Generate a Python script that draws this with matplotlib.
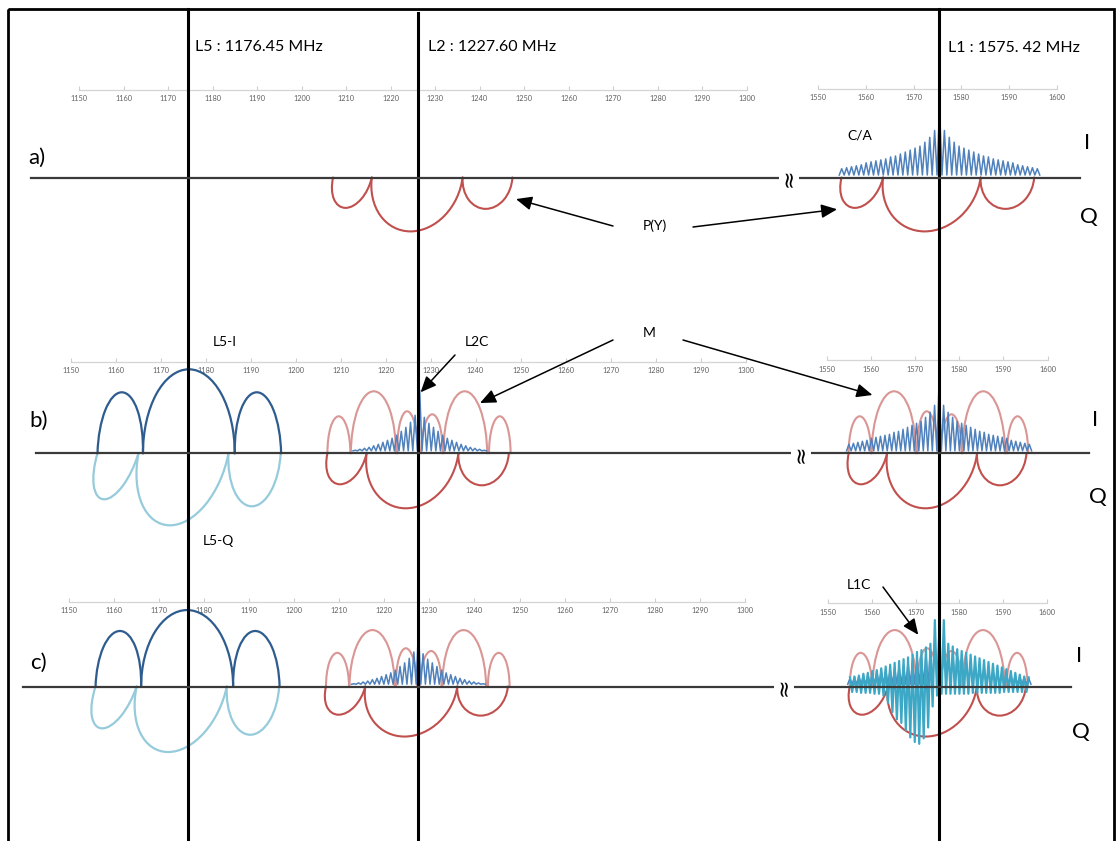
import matplotlib
matplotlib.use("Agg")
import matplotlib.pyplot as plt
import matplotlib.transforms as mtransforms
from matplotlib.path import Path
from matplotlib.patches import PathPatch, Rectangle
from matplotlib.lines import Line2D

plt.rcParams["font.family"] = ["Lato", "DejaVu Sans"]

W, H = 1120, 841

# ---------------------------------------------------------------- data
# carrier frequencies (MHz)
F_L5 = 1176.45
F_L2 = 1227.60
F_L1 = 1575.42
LINE_SPACING = 1.023          # spectral line spacing of the 1.023 Mcps codes

LEFT_TICKS = list(range(1150, 1301, 10))
RIGHT_TICKS = list(range(1550, 1601, 10))

# C/A code line spectrum, lines -20 .. +20 around L1
CA_PEAKS = [9, 10, 11, 12, 13, 15, 16, 17, 18, 19, 21, 22, 24, 26, 28, 30, 32, 36, 41, 48,
            73,
            48, 41, 36, 32, 30, 28, 26, 24, 22, 21, 19, 18, 17, 16, 15, 13, 12, 11, 10, 9]

# L2C line spectrum, lines -14 .. +14 around L2
L2C_PEAKS = [3, 4, 5, 6, 7.5, 9, 11, 13, 15, 18, 22, 26, 31, 38,
             63,
             36, 30, 26, 22, 18, 15, 13, 11, 9, 7.5, 6, 5, 4, 3]

# L1C excursions: upper points on lines -20 .. +20, lower points halfway between lines
L1C_TOP = [10, 11, 12, 14, 15, 17, 18, 20, 22, 24, 26, 28, 30, 32, 35, 38, 40, 43, 47, 73,
           30,
           73, 47, 44, 41, 39, 37, 35, 33, 31, 29, 27, 25, 23, 21, 19, 17, 15, 13, 11, 10]
L1C_BOTTOM = [-6, -6, -7, -7, -7, -8, -8, -10, -18, -28, -36, -40, -48, -56, -61, -63, -57, -45, -22, -10,
              -8, -8, -8, -8, -8, -8, -8, -7, -7, -7, -7, -7, -7, -7, -6, -6, -6, -6, -6, -6]

# L5 in-phase lobes (absolute MHz)
L5I_EDGES = [1156.0, 1166.1, 1186.5, 1196.8]
L5I_PEAK_F = [1161.4, 1176.3, 1191.4]
L5I_PEAK = [61, 84, 61]

# L5 quadrature lobes (absolute MHz)
L5Q_EDGES = [1156.0, 1165.1, 1185.1, 1196.7]
L5Q_PEAK_F = [1157.5, 1172.1, 1190.3]
L5Q_PEAK = [-46, -72, -53]

# M code lobes (offsets from carrier, MHz)
M_START = [-20.5, -15.3, -5.0, 0.3, 5.3, 15.4]
M_END = [-15.4, -5.3, -0.3, 5.1, 15.0, 20.2]
M_PEAK_F = [-18.0, -10.2, -2.8, 2.8, 10.0, 17.8]
M_PEAK = [37, 62, 42, 39, 62, 37]

# P(Y) code lobes (offsets from carrier, MHz)
PY_EDGES = [-20.5, -11.8, 8.6, 19.8]
PY_PEAK_F = [-17.7, -3.1, 13.8]
PY_PEAK = [-31, -55, -32]

# ---------------------------------------------------------------- style
C_BLUE = "#4F81BD"
C_RED = "#C0504D"
C_PINK = "#D99694"
C_L5I = "#2E5C8F"
C_L5Q = "#96CBDC"
C_L1C = "#3DA8C6"
C_BASE = "#3A3A3A"
TROUGH = 2.5

# panel geometry in pixels: baseline y, vertical scale, (x at low f, x at high f, axis-line y)
PANELS = {
    "a": dict(base=177.5, scale=0.98, left=(79.0, 746.5, 89.5), right=(818.0, 1057.0, 88.5),
              line=(30.5, 1079.5), brk=788.6),
    "b": dict(base=453.3, scale=1.0, left=(70.5, 745.5, 361.7), right=(827.0, 1047.5, 360.0),
              line=(35.7, 1088.6), brk=801.0),
    "c": dict(base=686.5, scale=0.91, left=(68.5, 745.0, 601.7), right=(828.3, 1046.7, 603.3),
              line=(23.0, 1071.0), brk=784.0),
}

fig = plt.figure(figsize=(W / 100, H / 100), dpi=100)
fig.patch.set_facecolor("white")

HALF_CIRCLE = Path.arc(0, 180)


def make_axes(x0, x1, yax, base, scale, flo, fhi, ticks):
    depth = 140.0
    bottom = base + depth
    ax = fig.add_axes([x0 / W, 1 - bottom / H, (x1 - x0) / W, (bottom - yax) / H])
    ax.set_xlim(flo, fhi)
    ax.set_ylim(-depth / scale, (base - yax) / scale)
    ax.patch.set_visible(False)
    for s in ("left", "right", "top"):
        ax.spines[s].set_visible(False)
    ax.spines["bottom"].set_position(("axes", 1.0))
    ax.spines["bottom"].set_color("#D4D4D4")
    ax.spines["bottom"].set_linewidth(0.9)
    ax.set_xticks(ticks)
    ax.set_xticklabels([str(t) for t in ticks])
    ax.set_yticks([])
    ax.tick_params(axis="x", direction="in", length=3, width=0.8, color="#CFCFCF",
                   labelsize=5.3, labelcolor="#606060", pad=4)
    return ax


def lobe(ax, a, b, fp, h, color, lw, z=2):
    """Half ellipse standing on [a, b], sheared so that its extreme sits at (fp, h)."""
    c = 0.5 * (a + b)
    r = 0.5 * (b - a)
    shape = mtransforms.Affine2D.from_values(r, 0, fp - c, h, c, 0)
    ax.add_patch(PathPatch(HALF_CIRCLE, transform=shape + ax.transData, fill=False,
                           edgecolor=color, lw=lw, clip_on=False, zorder=z,
                           joinstyle="round", capstyle="round"))


def comb(ax, center, peaks, color, lw=1.1, z=3):
    n = len(peaks) // 2
    xs, ys = [], []
    for i, p in enumerate(peaks):
        f = center + (i - n) * LINE_SPACING
        xs += [f - 0.5 * LINE_SPACING, f]
        ys += [TROUGH, p]
    xs.append(center + n * LINE_SPACING + 0.5 * LINE_SPACING)
    ys.append(TROUGH)
    ax.plot(xs, ys, color=color, lw=lw, clip_on=False, zorder=z, solid_joinstyle="round")


def draw_py(ax, center):
    for i in range(3):
        lobe(ax, center + PY_EDGES[i], center + PY_EDGES[i + 1], center + PY_PEAK_F[i],
             PY_PEAK[i], C_RED, 1.5)


def draw_m(ax, center):
    for i in range(6):
        lobe(ax, center + M_START[i], center + M_END[i], center + M_PEAK_F[i], M_PEAK[i],
             C_PINK, 1.5, z=1)


def draw_l5(ax):
    for i in range(3):
        lobe(ax, L5Q_EDGES[i], L5Q_EDGES[i + 1], L5Q_PEAK_F[i], L5Q_PEAK[i], C_L5Q, 1.6)
    for i in range(3):
        lobe(ax, L5I_EDGES[i], L5I_EDGES[i + 1], L5I_PEAK_F[i], L5I_PEAK[i], C_L5I, 1.6)


def draw_l1c(ax, center):
    xs, ys = [], []
    n = len(L1C_TOP) // 2
    for i, t in enumerate(L1C_TOP):
        f = center + (i - n) * LINE_SPACING
        xs.append(f)
        ys.append(t)
        if i < len(L1C_BOTTOM):
            xs.append(f + 0.5 * LINE_SPACING)
            ys.append(L1C_BOTTOM[i])
    ax.plot(xs, ys, color=C_L1C, lw=1.6, clip_on=False, zorder=4, solid_joinstyle="round")


axes = {}
for key, p in PANELS.items():
    xl0, xl1, yl = p["left"]
    xr0, xr1, yr = p["right"]
    axl = make_axes(xl0, xl1, yl, p["base"], p["scale"], 1150, 1300, LEFT_TICKS)
    axr = make_axes(xr0, xr1, yr, p["base"], p["scale"], 1550, 1600, RIGHT_TICKS)
    axes[key] = (axl, axr)

# panel a: legacy signals
axl, axr = axes["a"]
draw_py(axl, F_L2)
draw_py(axr, F_L1)
comb(axr, F_L1, CA_PEAKS, C_BLUE)

# panels b and c: modernised signals
for key in ("b", "c"):
    axl, axr = axes[key]
    draw_l5(axl)
    draw_m(axl, F_L2)
    draw_py(axl, F_L2)
    comb(axl, F_L2, L2C_PEAKS, C_BLUE)
    draw_m(axr, F_L1)
    draw_py(axr, F_L1)
    comb(axr, F_L1, CA_PEAKS, C_BLUE)
draw_l1c(axes["c"][1], F_L1)

# ---------------------------------------------------------------- overlay
ov = fig.add_axes([0, 0, 1, 1], zorder=10)
ov.set_xlim(0, W)
ov.set_ylim(H, 0)
ov.axis("off")
ov.patch.set_visible(False)

ov.add_patch(Rectangle((7.5, 8.5), 1106, 845, fill=False, edgecolor="black", lw=2.0, clip_on=False))

# carrier lines
ref_l, ref_r = axes["c"]
for f, ax, ytop in ((F_L5, ref_l, 8.5), (F_L2, ref_l, 13.0), (F_L1, ref_r, 8.5)):
    tr = mtransforms.blended_transform_factory(ax.transData, ov.transData)
    ov.add_line(Line2D([f, f], [ytop, H + 5], transform=tr, color="black", lw=2.2, clip_on=False))

# zero lines with break marks
for key, p in PANELS.items():
    tr = mtransforms.blended_transform_factory(ov.transData, axes[key][0].transData)
    ov.add_line(Line2D(list(p["line"]), [0, 0], transform=tr, color=C_BASE, lw=1.6, clip_on=False))
    ov.text(p["brk"], p["base"], "\u2248", rotation=90, ha="center", va="center", fontsize=16,
            family="DejaVu Sans", color="black",
            bbox=dict(boxstyle="square,pad=0.0", fc="white", ec="none"))

# headers
ov.text(195, 47, "L5 : 1176.45 MHz", fontsize=11.5, va="center", ha="left")
ov.text(428, 47, "L2 : 1227.60 MHz", fontsize=11.5, va="center", ha="left")
ov.text(948, 48, "L1 : 1575. 42 MHz", fontsize=11.5, va="center", ha="left")

for txt, x, y in (("a)", 37, 158), ("b)", 39, 421), ("c)", 38, 663)):
    ov.text(x, y, txt, fontsize=16, ha="center", va="center")
for txt, x, y in (("I", 1087, 143), ("Q", 1089, 217), ("I", 1095, 420), ("Q", 1098, 497),
                  ("I", 1079, 656), ("Q", 1081, 732)):
    ov.text(x, y, txt, fontsize=16, ha="center", va="center")

small = dict(fontsize=10, ha="center", va="center")
ov.text(860, 135, "C/A", **small)
ov.text(655, 226, "P(Y)", **small)
ov.text(649, 333, "M", **small)
ov.text(225, 342, "L5-I", **small)
ov.text(218, 541, "L5-Q", **small)
ov.text(477, 342, "L2C", **small)
ov.text(859, 585, "L1C", **small)

arrow = dict(arrowstyle="-|>,head_length=0.8,head_width=0.35", color="black", lw=1.1,
             shrinkA=0, shrinkB=0, mutation_scale=12)
for ax, xy, tail in ((axes["a"][0], (1248.2, -22), (613, 226)),
                     (axes["a"][1], (1554.0, -32.4), (693, 227)),
                     (axes["b"][0], (1241.0, 50.3), (613, 340)),
                     (axes["b"][1], (1560.3, 58.3), (683, 340)),
                     (axes["b"][0], (1227.8, 61.0), (455, 355)),
                     (axes["c"][1], (1570.6, 56.8), (883, 587))):
    ov.annotate("", xy=xy, xycoords=ax.transData, xytext=tail, textcoords=ov.transData,
                arrowprops=arrow, annotation_clip=False)

fig.savefig("out.png", dpi=100)
